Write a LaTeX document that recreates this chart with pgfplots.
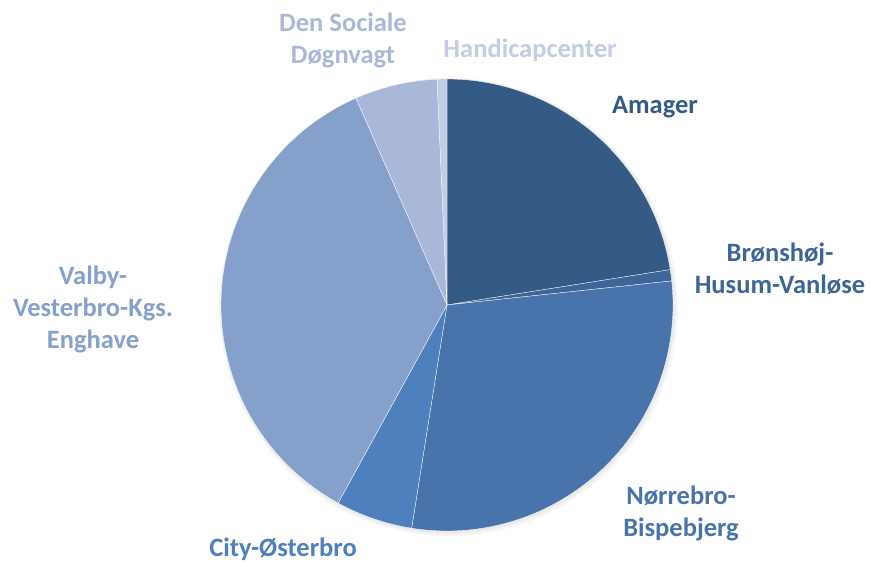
\documentclass[border=0pt]{standalone}
\usepackage{pgfplots}
\pgfplotsset{compat=1.18}
\usepgfplotslibrary{polar}
\usepackage{fontspec}
\setmainfont{Carlito}
\definecolor{cAm}{HTML}{345A86}
\definecolor{cBr}{HTML}{3D6698}
\definecolor{cNo}{HTML}{4874AB}
\definecolor{cCi}{HTML}{4D80BD}
\definecolor{cVa}{HTML}{84A0CB}
\definecolor{cDe}{HTML}{A9B8D8}
\definecolor{cHa}{HTML}{C3CDE3}
% shares in percent, clockwise from 12 o'clock
\def\vAm{22.5}\def\vBr{0.8}\def\vNo{29.2}\def\vCi{5.5}\def\vVa{35.4}\def\vDe{5.9}\def\vHa{0.7}
\pgfmathsetmacro\aA{90}
\pgfmathsetmacro\aB{\aA-3.6*\vAm}
\pgfmathsetmacro\aC{\aB-3.6*\vBr}
\pgfmathsetmacro\aD{\aC-3.6*\vNo}
\pgfmathsetmacro\aE{\aD-3.6*\vCi}
\pgfmathsetmacro\aF{\aE-3.6*\vVa}
\pgfmathsetmacro\aG{\aF-3.6*\vDe}
\pgfmathsetmacro\aH{\aG-3.6*\vHa}
\begin{document}
\begin{tikzpicture}[x=1pt,y=1pt]
\path[use as bounding box] (0,0) rectangle (870,562);
\begin{polaraxis}[at={(447pt,257pt)}, anchor=center, width=452pt, height=452pt,
  scale only axis, hide axis, ymin=0, ymax=1, clip=false]
\addplot[fill=black, draw=none, opacity=0.04, domain=0:360, samples=180, shift={(1.5pt,-2pt)}] {1.014} -- cycle;
\addplot[fill=black, draw=none, opacity=0.04, domain=0:360, samples=180, shift={(1pt,-1.2pt)}] {1.006} -- cycle;
\addplot[fill=cAm, draw=white, line width=0.3pt, domain=\aB:\aA, samples=80] {1} -- (axis cs:0,0) -- cycle;
\addplot[fill=cBr, draw=white, line width=0.3pt, domain=\aC:\aB, samples=10] {1} -- (axis cs:0,0) -- cycle;
\addplot[fill=cNo, draw=white, line width=0.3pt, domain=\aD:\aC, samples=100] {1} -- (axis cs:0,0) -- cycle;
\addplot[fill=cCi, draw=white, line width=0.3pt, domain=\aE:\aD, samples=30] {1} -- (axis cs:0,0) -- cycle;
\addplot[fill=cVa, draw=white, line width=0.3pt, domain=\aF:\aE, samples=120] {1} -- (axis cs:0,0) -- cycle;
\addplot[fill=cDe, draw=white, line width=0.3pt, domain=\aG:\aF, samples=30] {1} -- (axis cs:0,0) -- cycle;
\addplot[fill=cHa, draw=white, line width=0.3pt, domain=\aH:\aG, samples=10] {1} -- (axis cs:0,0) -- cycle;
\end{polaraxis}
\tikzset{lab/.style={font=\fontsize{26.5}{32}\selectfont\bfseries, align=center, inner sep=0pt}}
\node[lab, text=cDe] at (343,521.5) {Den Sociale\\Døgnvagt};
\node[lab, text=cHa] at (530,512) {Handicapcenter};
\node[lab, text=cAm] at (655,455) {Amager};
\node[lab, text=cBr] at (780,293) {Brønshøj-\\Husum-Vanløse};
\node[lab, text=cNo] at (681,49) {Nørrebro-\\Bispebjerg};
\node[lab, text=cCi] at (283,13) {City-Østerbro};
\node[lab, text=cVa] at (93,253) {Valby-\\Vesterbro-Kgs.\\Enghave};
\end{tikzpicture}
\end{document}
